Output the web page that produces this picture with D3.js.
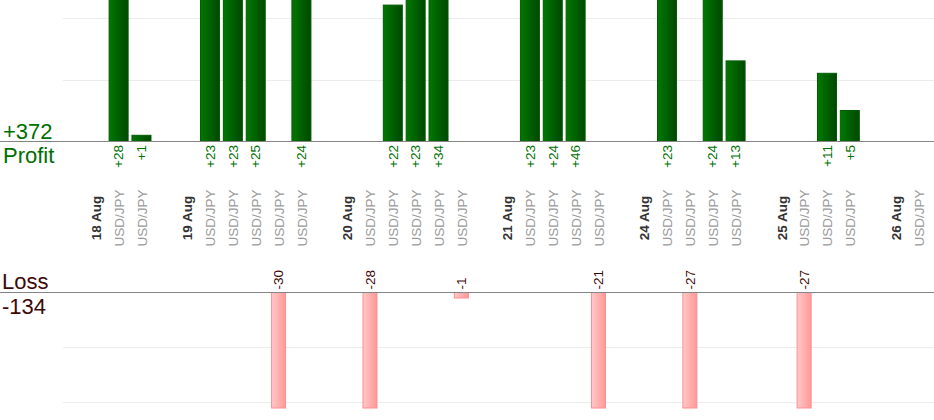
<!DOCTYPE html>
<html>
<head>
<meta charset="utf-8">
<script src="https://cdn.jsdelivr.net/npm/d3@7/dist/d3.min.js"></script>
<style>
  html, body { margin: 0; padding: 0; background: #fff; }
  svg { display: block; font-family: "Liberation Sans", Arial, sans-serif; }
</style>
</head>
<body>
<svg id="chart" width="934" height="420"></svg>
<script>
// ---- data ----
// slot labels along the x axis ("" = spacer, date = day header, symbol = trade)
const categories = ["", "18 Aug", "USD/JPY", "USD/JPY", "", "19 Aug", "USD/JPY", "USD/JPY", "USD/JPY", "USD/JPY", "USD/JPY",
  "", "20 Aug", "USD/JPY", "USD/JPY", "USD/JPY", "USD/JPY", "USD/JPY",
  "", "21 Aug", "USD/JPY", "USD/JPY", "USD/JPY", "USD/JPY",
  "", "24 Aug", "USD/JPY", "USD/JPY", "USD/JPY", "USD/JPY",
  "", "25 Aug", "USD/JPY", "USD/JPY", "USD/JPY",
  "", "26 Aug", "USD/JPY"];
const isDate = categories.map(c => /Aug$/.test(c));
// trade results (pips), null where slot has no trade result
const results = [null, null, 28, 1, null, null, 23, 23, 25, -30, 24,
  null, null, -28, 22, 23, 34, -1,
  null, null, 23, 24, 46, -21,
  null, null, 23, -27, 24, 13,
  null, null, -27, 11, 5,
  null, null, null];
const totalProfit = "+372";
const totalLoss = "-134";
const profitTicks = [10, 20];
const lossTicks = [10, 20];

// ---- layout ----
const svg = d3.select("#chart");
const W = 934;
const x = d3.scaleBand().domain(d3.range(categories.length)).range([62.5, 930.8]).padding(0);
const yP = d3.scaleLinear().domain([0, 10]).range([141.5, 79.5]);
const yL = d3.scaleLinear().domain([0, 21]).range([292.5, 408]).clamp(true);

const defs = svg.append("defs");
const gG = defs.append("linearGradient").attr("id", "gGreen").attr("x1", "0").attr("x2", "1").attr("y1", "0").attr("y2", "0");
gG.append("stop").attr("offset", "0").attr("stop-color", "#007800");
gG.append("stop").attr("offset", "1").attr("stop-color", "#004800");
const gR = defs.append("linearGradient").attr("id", "gRed").attr("x1", "0").attr("x2", "1").attr("y1", "0").attr("y2", "0");
gR.append("stop").attr("offset", "0").attr("stop-color", "#ffc8c8");
gR.append("stop").attr("offset", "1").attr("stop-color", "#ff9898");

// gridlines
svg.append("g").selectAll("line").data(profitTicks).join("line")
  .attr("x1", 63).attr("x2", W).attr("y1", d => Math.round(yP(d)) + 0.5).attr("y2", d => Math.round(yP(d)) + 0.5)
  .attr("stroke", "#ececec").attr("stroke-width", 1);
svg.append("g").selectAll("line").data(lossTicks).join("line")
  .attr("x1", 63).attr("x2", W).attr("y1", d => Math.round(yL(d)) - 0.5).attr("y2", d => Math.round(yL(d)) - 0.5)
  .attr("stroke", "#ececec").attr("stroke-width", 1);

const idx = d3.range(categories.length);
const profits = idx.filter(i => results[i] !== null && results[i] > 0);
const losses = idx.filter(i => results[i] !== null && results[i] < 0);

// profit bars
const pw = 19;
svg.append("g").selectAll("rect").data(profits).join("rect")
  .attr("x", i => x(i) + x.bandwidth() / 2 - pw / 2 - 1)
  .attr("width", pw)
  .attr("y", i => yP(results[i]))
  .attr("height", i => yP(0) - yP(results[i]))
  .attr("fill", "url(#gGreen)").attr("stroke", "#005c00").attr("stroke-width", 1);

// loss bars
const lw = 14;
svg.append("g").selectAll("rect").data(losses).join("rect")
  .attr("x", i => x(i) + x.bandwidth() / 2 - lw / 2 - 1)
  .attr("width", lw)
  .attr("y", yL(0))
  .attr("height", i => yL(-results[i]) - yL(0))
  .attr("fill", "url(#gRed)").attr("stroke", "#ff8e8e").attr("stroke-width", 1);

// baselines
svg.append("line").attr("x1", 0).attr("x2", W).attr("y1", 141.5).attr("y2", 141.5).attr("stroke", "#858585").attr("stroke-width", 1.2);
svg.append("line").attr("x1", 0).attr("x2", W).attr("y1", 292.5).attr("y2", 292.5).attr("stroke", "#858585").attr("stroke-width", 1.2);

// profit value labels
svg.append("g").selectAll("text").data(profits).join("text")
  .attr("transform", i => `translate(${x(i) + x.bandwidth() / 2 - 1},145) rotate(-90)`)
  .attr("text-anchor", "end").attr("dy", "0.35em")
  .attr("font-size", 13.5).attr("fill", "#007000")
  .text(i => "+" + results[i]);

// loss value labels
svg.append("g").selectAll("text").data(losses).join("text")
  .attr("transform", i => `translate(${x(i) + x.bandwidth() / 2 - 1},289.5) rotate(-90)`)
  .attr("text-anchor", "start").attr("dy", "0.35em")
  .attr("font-size", 13.5).attr("fill", "#3f0808")
  .text(i => String(results[i]));

// category labels
svg.append("g").selectAll("text").data(idx.filter(i => categories[i] !== "")).join("text")
  .attr("transform", i => `translate(${x(i) + x.bandwidth() / 2 - 0.5},218) rotate(-90)`)
  .attr("text-anchor", "middle").attr("dy", "0.35em")
  .attr("font-size", i => isDate[i] ? 13.5 : 13.5)
  .attr("font-weight", i => isDate[i] ? "bold" : "normal")
  .attr("fill", i => isDate[i] ? "#333333" : "#9a9a9a")
  .text(i => categories[i]);

// totals
svg.append("text").attr("x", 3).attr("y", 138.5).attr("font-size", 22).attr("fill", "#006e00").text(totalProfit);
svg.append("text").attr("x", 3).attr("y", 163).attr("font-size", 22).attr("fill", "#006e00").text("Profit");
svg.append("text").attr("x", 2).attr("y", 288.5).attr("font-size", 22).attr("fill", "#3f0808").text("Loss");
svg.append("text").attr("x", 2).attr("y", 314).attr("font-size", 22).attr("fill", "#3f0808").text(totalLoss);
</script>
</body>
</html>
